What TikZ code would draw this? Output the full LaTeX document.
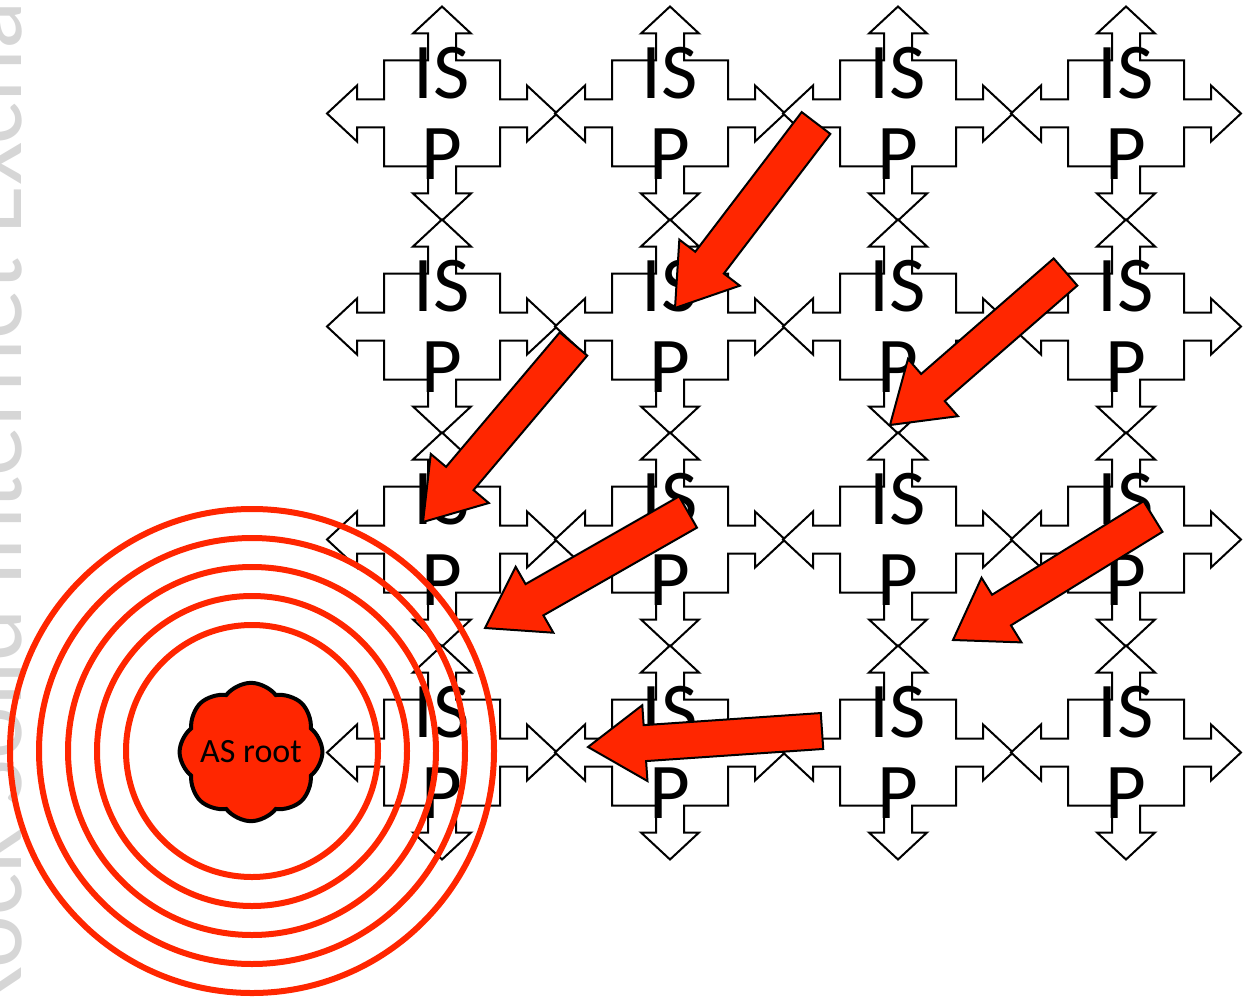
\documentclass[tikz,border=0pt]{standalone}
\usepackage{fontspec}
\setmainfont{Carlito}
\usetikzlibrary{calc,shapes.symbols}

\definecolor{keyred}{RGB}{255,38,0}
\definecolor{watermark}{RGB}{214,214,214}

% block arrow from tail #1 to tip #2
\newcommand{\flowarrow}[2]{%
	\coordinate (#1-base) at ($(#2)!57pt!(#1)$);
	\draw[flow] ($(#1)!18pt!90:(#2)$) -- ($(#1-base)!18pt!90:(#2)$)
		-- ($(#1-base)!38pt!90:(#2)$) -- (#2)
		-- ($(#1-base)!38pt!-90:(#2)$) -- ($(#1-base)!18pt!-90:(#2)$)
		-- ($(#1)!18pt!-90:(#2)$) -- cycle;
}

\begin{document}
\begin{tikzpicture}
		[x=1pt,y=-1pt,
		ispline/.style={draw=black,fill=white,line width=2pt},
		isplabel/.style={inner sep=0pt,align=center,font=\fontsize{79}{81}\selectfont},
		flow/.style={draw=black,fill=keyred,line width=2pt},
		ring/.style={draw=keyred,line width=6pt},
		root/.style={cloud,cloud puffs=8,cloud puff arc=105,aspect=1.05,
			draw=black,fill=keyred,line width=4pt,inner sep=-5pt,
			minimum width=140pt,minimum height=134pt,
			font=\fontsize{34}{36}\selectfont}
		]
		\useasboundingbox (0,0) rectangle (1246,1000);
		\clip (0,0) rectangle (1246,1000);
		
		% watermark on the left edge
		\node[rotate=90,anchor=base west,inner sep=0pt,text=watermark,
			font=\fontsize{100}{100}\selectfont] (title) at (21,1021)
			{Rock Solid Internet Exchange};
		
		% grid of ISPs
		\foreach \col in {0,...,3}
		\foreach \row in {0,...,3}{
			\begin{scope}[shift={(442+228*\col,113.5+213*\row)}]
				\draw[ispline] (-58,-53) -- (-14,-53) -- (-14,-80) -- (-29,-80) -- (0,-107)
					-- (29,-80) -- (14,-80) -- (14,-53) -- (58,-53) -- (58,-14) -- (85,-14)
					-- (85,-28) -- (115,0) -- (85,28) -- (85,14) -- (58,14) -- (58,53)
					-- (14,53) -- (14,80) -- (29,80) -- (0,107) -- (-29,80) -- (-14,80)
					-- (-14,53) -- (-58,53) -- (-58,14) -- (-85,14) -- (-85,28) -- (-115,0)
					-- (-85,-28) -- (-85,-14) -- (-58,-14) -- cycle;
				\node[isplabel] (isp-\row-\col) at (0,0) {IS\\P};
			\end{scope}
		}
		
		% root and its rings
		\coordinate (centre) at (252,751);
		\foreach \r in {126,155,184,213,242}
			\draw[ring] (centre) circle[radius=\r];
		\node[root] (asroot) at (251,752) {AS root};
		
		% arrows towards the root
		\coordinate (from1) at (816,123);   \coordinate (to1) at (675,308);
		\coordinate (from2) at (573.5,344); \coordinate (to2) at (423,522);
		\coordinate (from3) at (1065.5,272);\coordinate (to3) at (890,425);
		\coordinate (from4) at (688,512);   \coordinate (to4) at (485,628);
		\coordinate (from5) at (1153,516.5);\coordinate (to5) at (953,640);
		\coordinate (from6) at (822,731);   \coordinate (to6) at (588,747);
		\foreach \n in {1,...,6}
			\flowarrow{from\n}{to\n};
	\end{tikzpicture}
\end{document}
